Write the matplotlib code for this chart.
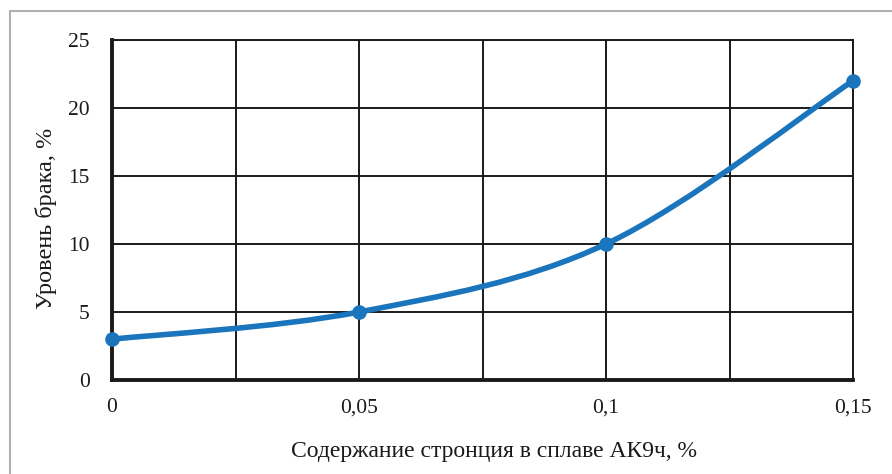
import numpy as np
import matplotlib
matplotlib.use('Agg')
import matplotlib.pyplot as plt
from matplotlib.path import Path
from matplotlib.patches import PathPatch, Rectangle

# data
strontium = [0, 0.05, 0.1, 0.15]
defect_rate = [3, 5, 10, 22]
x_ticks = [0, 0.05, 0.1, 0.15]
x_labels = ['0', '0,05', '0,1', '0,15']
y_ticks = [0, 5, 10, 15, 20, 25]

plt.rcParams['font.family'] = ['Liberation Serif', 'DejaVu Serif']

fig = plt.figure(figsize=(8.92, 4.74), dpi=100)
ax = fig.add_axes([112 / 892, 1 - 380 / 474, (853 - 112) / 892, (380 - 40) / 474])

# light border around the chart area
fig.patches.append(Rectangle((9.5 / 892, -0.1), 1.2, (474 - 10.5) / 474 + 0.1,
                             transform=fig.transFigure, fill=False,
                             edgecolor='#b0b0b0', linewidth=1.5))

color = '#1b75bc'

# smoothed line like Excel (Catmull-Rom style bezier)
pts = np.column_stack([strontium, defect_rate]).astype(float)
ext = np.vstack([pts[0], pts, pts[-1]])
verts = [tuple(pts[0])]
codes = [Path.MOVETO]
for i in range(1, len(ext) - 2):
    p0, p1, p2, p3 = ext[i - 1], ext[i], ext[i + 1], ext[i + 2]
    c1 = p1 + (p2 - p0) / 6
    c2 = p2 - (p3 - p1) / 6
    verts += [tuple(c1), tuple(c2), tuple(p2)]
    codes += [Path.CURVE4] * 3
ax.add_patch(PathPatch(Path(verts, codes), fill=False, edgecolor=color,
                       linewidth=4.0, capstyle='round', zorder=3, clip_on=False))
ax.plot(strontium, defect_rate, 'o', color=color, markersize=9.5, zorder=4, clip_on=False)

ax.set_xlim(0, 0.15)
ax.set_ylim(0, 25)
ax.set_xticks(x_ticks)
ax.set_xticklabels(x_labels)
ax.set_xticks([0.025, 0.075, 0.125], minor=True)
ax.set_yticks(y_ticks)
ax.grid(True, which='both', color='#1a1a1a', linewidth=1.4)
ax.set_axisbelow(True)
ax.tick_params(which='both', length=0, labelsize=15.5, colors='#1a1a1a')
ax.tick_params(axis='x', pad=13)
ax.tick_params(axis='y', pad=16)

for s in ['top', 'right']:
    ax.spines[s].set_linewidth(1.4)
    ax.spines[s].set_color('#1a1a1a')
for s in ['left', 'bottom']:
    ax.spines[s].set_linewidth(2.8)
    ax.spines[s].set_color('#1a1a1a')

ax.set_xlabel('Содержание стронция в сплаве АК9ч, %', fontsize=17, labelpad=17, color='#1a1a1a')
ax.set_ylabel('Уровень брака, %', fontsize=17.5, labelpad=8, color='#1a1a1a')
ax.xaxis.label.set_x(0.515)
ax.yaxis.label.set_y(0.474)

fig.savefig('out.png', dpi=100)
